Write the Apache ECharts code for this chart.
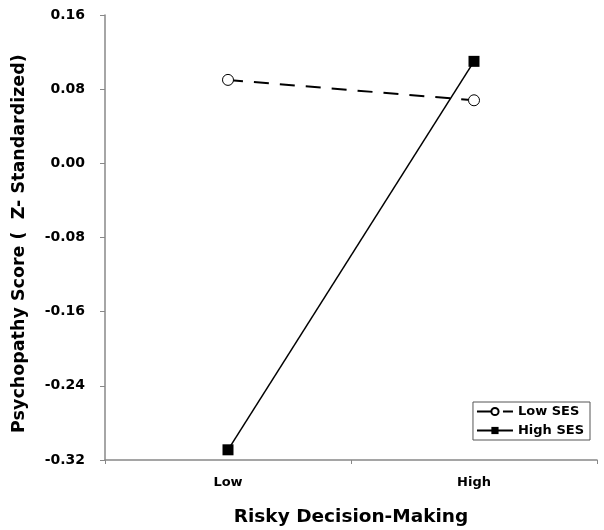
<!DOCTYPE html>
<html>
<head>
<meta charset="utf-8">
<script src="https://cdn.jsdelivr.net/npm/echarts@6/dist/echarts.min.js"></script>
<style>
  html, body { margin: 0; padding: 0; background: #fff; }
  #chart { width: 604px; height: 530px; }
</style>
</head>
<body>
<div id="chart"></div>
<script>
// data
const categories = ["Low", "High"];
const lowSES = [0.090, 0.068];
const highSES = [-0.309, 0.110];
const yTicks = { min: -0.32, max: 0.16, interval: 0.08 };

const font = "'DejaVu Sans', Arial, sans-serif";
const chart = echarts.init(document.getElementById("chart"));

// trailing no-break spaces push the rotated title down a little, like the original
const yName = "Psychopathy Score (  Z- Standardized)" + "\u00a0".repeat(2);

chart.setOption({
  animation: false,
  backgroundColor: "#fff",
  grid: { left: 105, right: 7, top: 15, bottom: 70, outerBoundsMode: "none" },
  legend: {
    orient: "vertical",
    right: 14,
    top: 402,
    data: ["Low SES", "High SES"],
    itemWidth: 36,
    itemHeight: 9,
    itemGap: 6,
    padding: [3, 6, 3, 3],
    borderColor: "#555",
    borderWidth: 1,
    borderRadius: 0,
    textStyle: { fontFamily: font, fontWeight: "bold", fontSize: 13, color: "#000" },
  },
  xAxis: {
    type: "category",
    data: categories,
    boundaryGap: true,
    name: "Risky Decision-Making",
    nameLocation: "middle",
    nameGap: 48,
    nameTextStyle: { fontFamily: font, fontWeight: "bold", fontSize: 18.5, color: "#000" },
    axisLine: { onZero: false, lineStyle: { color: "#888", width: 1.5 } },
    axisTick: { show: true, length: 4, lineStyle: { color: "#888" } },
    axisLabel: { fontFamily: font, fontWeight: "bold", fontSize: 13, color: "#000", margin: 16 },
  },
  yAxis: {
    type: "value",
    min: yTicks.min,
    max: yTicks.max,
    interval: yTicks.interval,
    name: yName,
    nameLocation: "middle",
    nameGap: 77,
    nameTextStyle: { fontFamily: font, fontWeight: "bold", fontSize: 17.5, color: "#000" },
    axisLine: { show: true, lineStyle: { color: "#888", width: 1.5 } },
    axisTick: { show: true, length: 5, lineStyle: { color: "#888" } },
    splitLine: { show: false },
    axisLabel: {
      fontFamily: font, fontWeight: "bold", fontSize: 14, color: "#000", margin: 20,
      formatter: (v) => v.toFixed(2),
    },
  },
  series: [
    {
      name: "Low SES",
      type: "line",
      data: lowSES,
      symbol: "circle",
      symbolSize: 11,
      itemStyle: { color: "#fff", borderColor: "#000", borderWidth: 1 },
      lineStyle: { color: "#000", width: 2, type: [15, 11] },
      z: 3,
    },
    {
      name: "High SES",
      type: "line",
      data: highSES,
      symbol: "rect",
      symbolSize: 11,
      itemStyle: { color: "#000" },
      lineStyle: { color: "#000", width: 1.5 },
      z: 2,
    },
  ],
});
</script>
</body>
</html>
